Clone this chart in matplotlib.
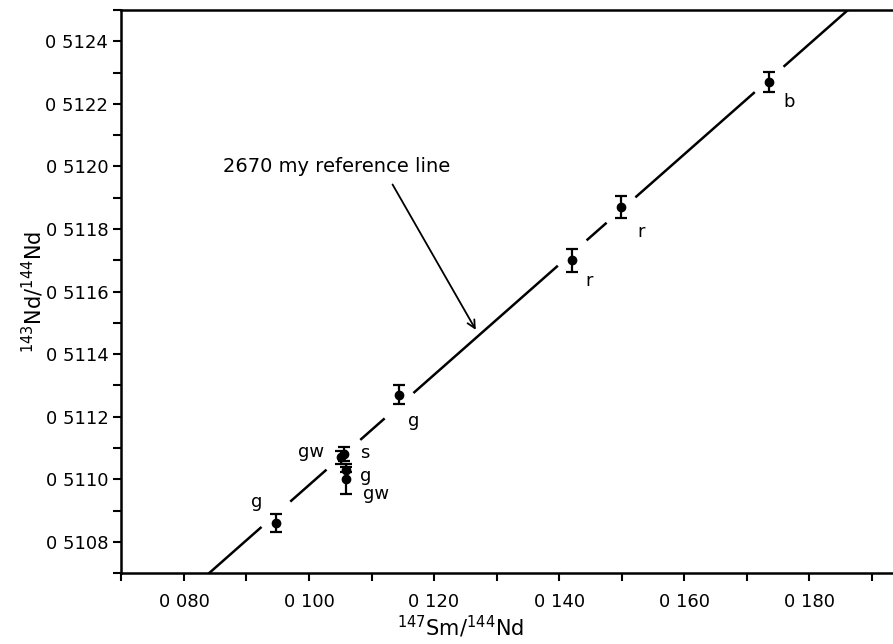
import numpy as np
import matplotlib.pyplot as plt
from matplotlib.ticker import MultipleLocator, FuncFormatter

# Sm-Nd data
sm_nd = [0.0947, 0.1051, 0.1056, 0.1059, 0.1059, 0.1144, 0.1421, 0.1499, 0.1736]
nd_nd = [0.51086, 0.51107, 0.51108, 0.51103, 0.51100, 0.51127, 0.51170, 0.51187, 0.51227]
nd_err = [0.000030, 0.000022, 0.000022, 0.000008, 0.000048, 0.000030, 0.000037, 0.000035, 0.000033]
rock = ['g', 'gw', 's', 'g', 'gw', 'g', 'r', 'r', 'b']
# label offsets in pixels (dx, dy)
lab_off = [(-19, 21), (-30, 5), (21, 1), (20, -6), (30, -15), (15, -26), (17, -21), (20, -25), (20, -20)]

# reference isochron
age_ma = 2670
lam = 6.54e-12
nd_init = 0.50922
slope = np.exp(lam * age_ma * 1e6) - 1

fig = plt.figure(figsize=(8.93, 6.44), dpi=100)
ax = fig.add_axes([0.136, 0.110, 0.864, 0.8745])
ax.set_xlim(0.070, 0.19341)
ax.set_ylim(0.5107, 0.5125)

# reference line, broken around the data points
gap = 0.0023
xs = sorted(sm_nd)
breaks = []
for v in xs:
    lo, hi = v - gap, v + gap
    if breaks and lo <= breaks[-1][1]:
        breaks[-1][1] = max(breaks[-1][1], hi)
    else:
        breaks.append([lo, hi])
start = 0.070
for lo, hi in breaks + [[0.25, 0.25]]:
    seg = np.array([start, lo])
    ax.plot(seg, nd_init + slope * seg, color='black', lw=1.8, solid_capstyle='butt')
    start = hi

ax.errorbar(sm_nd, nd_nd, yerr=nd_err, fmt='o', color='black', ms=6,
            elinewidth=1.6, capsize=4.5, capthick=1.6)

for x, y, t, (dx, dy) in zip(sm_nd, nd_nd, rock, lab_off):
    ax.annotate(t, (x, y), xytext=(dx, dy), textcoords='offset pixels',
                ha='center', va='center', fontsize=13)

ax.text(0.10448, 0.51200, f'{age_ma} my reference line', ha='center', va='center', fontsize=14)
ax.annotate('', xy=(0.1269, 0.51147), xytext=(0.11314, 0.51195),
            arrowprops=dict(arrowstyle='->', color='black', lw=1.3, mutation_scale=14))

ax.xaxis.set_major_locator(MultipleLocator(0.02))
ax.xaxis.set_minor_locator(MultipleLocator(0.01))
ax.yaxis.set_major_locator(MultipleLocator(0.0002))
ax.yaxis.set_minor_locator(MultipleLocator(0.0001))
ax.xaxis.set_major_formatter(FuncFormatter(lambda v, p: '0 ' + f'{v:.3f}'[2:]))
ax.yaxis.set_major_formatter(FuncFormatter(lambda v, p: '0 ' + f'{v:.4f}'[2:]))
ax.tick_params(which='both', direction='out', length=6, width=1.5, labelsize=13)
ax.tick_params(axis='x', which='major', pad=8)

ax.spines['right'].set_visible(False)
for s in ['left', 'bottom', 'top']:
    ax.spines[s].set_linewidth(1.8)

ax.set_xlabel(r'$^{147}$Sm/$^{144}$Nd', fontsize=15)
ax.xaxis.set_label_coords(0.44, -0.072)
ax.set_ylabel(r'$^{143}$Nd/$^{144}$Nd', fontsize=15)
ax.yaxis.set_label_coords(-0.098, 0.5)

fig.savefig('out.png', dpi=100)
